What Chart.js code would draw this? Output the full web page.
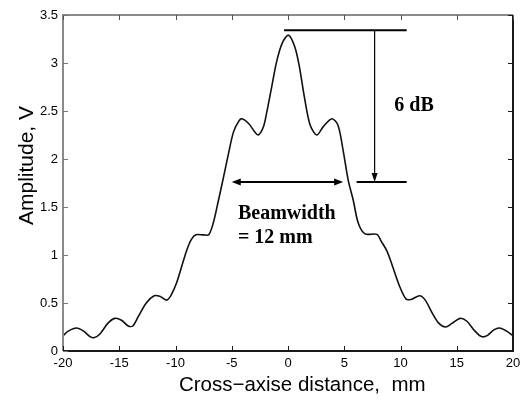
<!DOCTYPE html>
<html>
<head>
<meta charset="utf-8">
<script src="https://cdn.jsdelivr.net/npm/chart.js@4.4.1/dist/chart.umd.min.js"></script>
<style>
  html, body { margin: 0; padding: 0; background: #fff; }
  #wrap { width: 526px; height: 400px; }
</style>
</head>
<body>
<div id="wrap"><canvas id="beamChart" width="526" height="400"></canvas></div>
<script>
// cross-axis beam profile
var distance = [-20, -19.5, -18.8, -18.2, -17.6, -17.2, -16.7, -16.0, -15.4, -14.8, -14.2, -13.8,
    -13.3, -12.6, -11.9, -11.4, -10.8, -10.4, -9.9, -9.4, -9.0, -8.6, -8.2, -7.5, -7.05, -6.65,
    -6.2, -5.75, -5.3, -4.85, -4.4, -4.1, -3.5, -3.0, -2.65, -2.2, -1.9, -1.5, -1.0, -0.5,
    0.05, 0.6, 1.0, 1.45, 1.95, 2.55, 3.15, 3.9, 4.45, 4.9, 5.35, 5.8, 6.25, 6.85, 7.9,
    8.3, 8.8, 9.3, 9.9, 10.5, 11.0, 11.7, 12.2, 12.8, 13.4, 14.0, 14.6, 15.3, 15.9, 16.6, 17.2,
    17.7, 18.3, 18.8, 19.4, 20];
var amplitude = [0.16, 0.21, 0.24, 0.21, 0.15, 0.14, 0.18, 0.29, 0.34, 0.32, 0.26, 0.26,
    0.36, 0.50, 0.575, 0.57, 0.53, 0.58, 0.71, 0.90, 1.05, 1.16, 1.21, 1.21, 1.21, 1.33,
    1.56, 1.80, 2.05, 2.28, 2.39, 2.42, 2.37, 2.29, 2.25, 2.33, 2.48, 2.72, 3.02, 3.21,
    3.29, 3.17, 2.97, 2.65, 2.36, 2.25, 2.34, 2.42, 2.35, 2.09, 1.78, 1.57, 1.33, 1.22, 1.215,
    1.14, 1.04, 0.88, 0.68, 0.54, 0.54, 0.575, 0.53, 0.40, 0.29, 0.25,
    0.29, 0.34, 0.31, 0.21, 0.15, 0.16, 0.22, 0.24, 0.21, 0.16];

var xTicks = [-20, -15, -10, -5, 0, 5, 10, 15, 20];
var yTicks = [0, 0.5, 1, 1.5, 2, 2.5, 3, 3.5];

// annotation levels (data units)
var peakLevel = 3.34;
var halfLevel = 1.76;
var peakLineX = [-0.35, 10.55];
var halfLineX = [6.1, 10.55];
var dbArrowX = 7.7;
var beamEdges = [-5.0, 4.9];
var dbLabel = { x: 11.2, y: 2.5, text: '6 dB' };
var beamLabel = { x: -4.45, y: [1.375, 1.125], text: ['Beamwidth', '= 12 mm'] };

var points = distance.map(function (d, i) { return { x: d, y: amplitude[i] }; });

function arrowHead(ctx, x, y, dir) {
    // dir: 'left' | 'right' | 'down'
    ctx.beginPath();
    if (dir === 'left') {
        ctx.moveTo(x, y); ctx.lineTo(x + 9, y - 3.5); ctx.lineTo(x + 9, y + 3.5);
    } else if (dir === 'right') {
        ctx.moveTo(x, y); ctx.lineTo(x - 9, y - 3.5); ctx.lineTo(x - 9, y + 3.5);
    } else {
        ctx.moveTo(x, y); ctx.lineTo(x - 3, y - 9); ctx.lineTo(x + 3, y - 9);
    }
    ctx.closePath();
    ctx.fill();
}

var framePlugin = {
    id: 'frame',
    afterDraw: function (chart) {
        var ctx = chart.ctx;
        var a = chart.chartArea;
        var xs = chart.scales.x, ys = chart.scales.y;
        ctx.save();
        ctx.lineWidth = 2;
        // left + top are grey, right + bottom dark (as in the original)
        ctx.strokeStyle = '#8a8a8a';
        ctx.beginPath();
        ctx.moveTo(a.left, a.bottom); ctx.lineTo(a.left, a.top); ctx.lineTo(a.right, a.top);
        ctx.stroke();
        ctx.strokeStyle = '#1a1a1a';
        ctx.beginPath();
        ctx.moveTo(a.right, a.top); ctx.lineTo(a.right, a.bottom); ctx.lineTo(a.left, a.bottom);
        ctx.stroke();
        // inward ticks
        ctx.lineWidth = 1;
        xs.ticks.forEach(function (t) {
            var px = Math.round(xs.getPixelForValue(t.value)) + 0.5;
            ctx.strokeStyle = '#1a1a1a';
            ctx.beginPath(); ctx.moveTo(px, a.bottom); ctx.lineTo(px, a.bottom - 5); ctx.stroke();
            ctx.strokeStyle = '#555';
            ctx.beginPath(); ctx.moveTo(px, a.top); ctx.lineTo(px, a.top + 5); ctx.stroke();
        });
        ys.ticks.forEach(function (t) {
            var py = Math.round(ys.getPixelForValue(t.value)) + 0.5;
            ctx.strokeStyle = '#777';
            ctx.beginPath(); ctx.moveTo(a.left, py); ctx.lineTo(a.left + 5, py); ctx.stroke();
            ctx.strokeStyle = '#1a1a1a';
            ctx.beginPath(); ctx.moveTo(a.right, py); ctx.lineTo(a.right - 5, py); ctx.stroke();
        });
        ctx.restore();
    }
};

var notePlugin = {
    id: 'notes',
    afterDatasetsDraw: function (chart) {
        var ctx = chart.ctx;
        var xs = chart.scales.x, ys = chart.scales.y;
        var X = function (v) { return xs.getPixelForValue(v); };
        var Y = function (v) { return ys.getPixelForValue(v); };
        ctx.save();
        ctx.strokeStyle = '#000';
        ctx.fillStyle = '#000';

        // -6 dB level lines
        ctx.lineWidth = 2;
        ctx.beginPath();
        ctx.moveTo(X(peakLineX[0]), Y(peakLevel)); ctx.lineTo(X(peakLineX[1]), Y(peakLevel));
        ctx.moveTo(X(halfLineX[0]), Y(halfLevel)); ctx.lineTo(X(halfLineX[1]), Y(halfLevel));
        ctx.stroke();

        // vertical 6 dB arrow
        ctx.lineWidth = 1.2;
        ctx.beginPath();
        ctx.moveTo(X(dbArrowX), Y(peakLevel)); ctx.lineTo(X(dbArrowX), Y(halfLevel) - 6);
        ctx.stroke();
        arrowHead(ctx, X(dbArrowX), Y(halfLevel), 'down');

        // beamwidth double arrow
        ctx.lineWidth = 2;
        ctx.beginPath();
        ctx.moveTo(X(beamEdges[0]) + 6, Y(halfLevel)); ctx.lineTo(X(beamEdges[1]) - 6, Y(halfLevel));
        ctx.stroke();
        arrowHead(ctx, X(beamEdges[0]), Y(halfLevel), 'left');
        arrowHead(ctx, X(beamEdges[1]), Y(halfLevel), 'right');

        // labels
        ctx.font = 'bold 20px "Liberation Serif", "Times New Roman", serif';
        ctx.textBaseline = 'alphabetic';
        ctx.textAlign = 'center';
        ctx.fillText(dbLabel.text, X(dbLabel.x), Y(dbLabel.y));
        ctx.textAlign = 'left';
        beamLabel.text.forEach(function (s, i) {
            ctx.fillText(s, X(beamLabel.x), Y(beamLabel.y[i]));
        });
        ctx.restore();
    }
};

document.addEventListener('DOMContentLoaded', function () {
    var ctx = document.getElementById('beamChart').getContext('2d');
    var beamChart = new Chart(ctx, {
        type: 'line',
        data: {
            datasets: [{
                data: points,
                borderColor: '#111',
                borderWidth: 1.6,
                pointRadius: 0,
                fill: false,
                tension: 0.3
            }]
        },
        options: {
            responsive: false,
            animation: false,
            layout: { padding: { top: 15, right: 13, left: 0, bottom: 0 } },
            plugins: { legend: { display: false }, tooltip: { enabled: false } },
            scales: {
                x: {
                    type: 'linear',
                    min: -20,
                    max: 20,
                    grid: { display: false, drawTicks: false, tickLength: 0 },
                    border: { display: false },
                    afterBuildTicks: function (scale) {
                        scale.ticks = xTicks.map(function (v) { return { value: v }; });
                    },
                    afterFit: function (scale) { scale.height = 49; },
                    ticks: {
                        color: '#000',
                        padding: 5,
                        maxRotation: 0,
                        callback: function (v) { return String(v); },
                        font: { family: '"Liberation Sans", Arial, sans-serif', size: 13 }
                    },
                    title: {
                        display: true,
                        text: '     Cross\u2212axise distance,  mm',
                        color: '#000',
                        padding: { top: 0, bottom: 2 },
                        font: { family: '"Liberation Sans", Arial, sans-serif', size: 20.5 }
                    }
                },
                y: {
                    min: 0,
                    max: 3.5,
                    grid: { display: false, drawTicks: false, tickLength: 0 },
                    border: { display: false },
                    afterBuildTicks: function (scale) {
                        scale.ticks = yTicks.map(function (v) { return { value: v }; });
                    },
                    afterFit: function (scale) { scale.width = 63; },
                    ticks: {
                        color: '#000',
                        padding: 5,
                        callback: function (v) { return String(v); },
                        font: { family: '"Liberation Sans", Arial, sans-serif', size: 13 }
                    },
                    title: {
                        display: true,
                        text: '      Amplitude, V',
                        color: '#000',
                        padding: { top: 15, bottom: 0 },
                        font: { family: '"Liberation Sans", Arial, sans-serif', size: 21 }
                    }
                }
            }
        },
        plugins: [framePlugin, notePlugin]
    });
});
</script>
</body>
</html>
